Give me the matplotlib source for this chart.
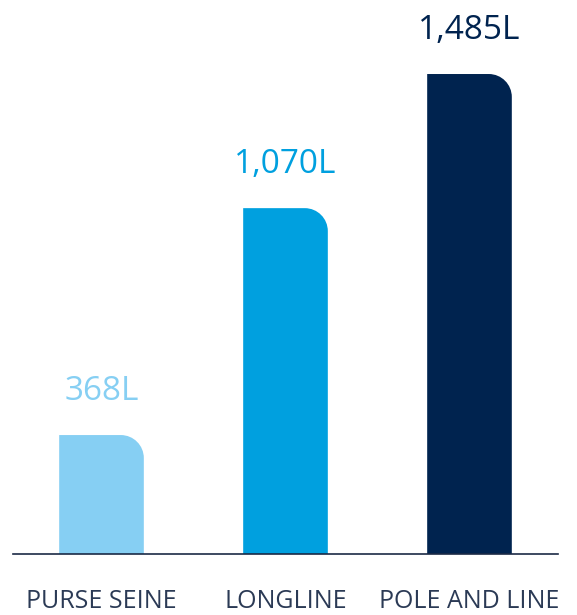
import matplotlib
matplotlib.use("Agg")
import matplotlib.pyplot as plt
from matplotlib.patches import PathPatch
from matplotlib.path import Path

# Litres per tonne by fishing method
METHODS = ["PURSE SEINE", "LONGLINE", "POLE AND LINE"]
LITRES = [368, 1070, 1485]
LABELS = ["368L", "1,070L", "1,485L"]
BAR_COLORS = ["#86CFF3", "#00A0DF", "#00234F"]

TEXT_DARK = "#2B3A55"
FONT = ["Open Sans", "DejaVu Sans"]

W_PX, H_PX, DPI = 577, 615, 100
BAR_WIDTH = 0.46
CORNER_PX = 23  # radius of the rounded top-right corner, in pixels

fig = plt.figure(figsize=(W_PX / DPI, H_PX / DPI), dpi=DPI)
ax = fig.add_axes([13 / W_PX, 61 / H_PX, 545 / W_PX, 554 / H_PX])

x_lo, x_hi = -0.481, 2.481
y_hi = 1714
ax.set_xlim(x_lo, x_hi)
ax.set_ylim(0, y_hi)

# pixel -> data conversion for the corner radius
rx = CORNER_PX * (x_hi - x_lo) / 545
ry = CORNER_PX * y_hi / 554
k = 0.5523


def rounded_bar(xc, h, color):
    x0, x1 = xc - BAR_WIDTH / 2, xc + BAR_WIDTH / 2
    verts = [
        (x0, 0), (x0, h), (x1 - rx, h),
        (x1 - rx + k * rx, h), (x1, h - ry + k * ry), (x1, h - ry),
        (x1, 0), (x0, 0),
    ]
    codes = [Path.MOVETO, Path.LINETO, Path.LINETO,
             Path.CURVE4, Path.CURVE4, Path.CURVE4,
             Path.LINETO, Path.CLOSEPOLY]
    ax.add_patch(PathPatch(Path(verts, codes), facecolor=color,
                           edgecolor="none", zorder=2))


for i, (val, lab, col) in enumerate(zip(LITRES, LABELS, BAR_COLORS)):
    rounded_bar(i, val, col)
    ax.annotate(lab, (i, val), xytext=(0, 25), textcoords="offset points",
                ha="center", va="baseline", fontsize=24, color=col,
                family=FONT)

for spine in ("top", "right", "left"):
    ax.spines[spine].set_visible(False)
ax.spines["bottom"].set_color("#1B2A45")
ax.spines["bottom"].set_linewidth(1.2)
ax.set_yticks([])
ax.set_xticks(range(len(METHODS)))
ax.set_xticklabels(METHODS, family=FONT, fontsize=18, color=TEXT_DARK)
ax.tick_params(axis="x", length=0, pad=25)

fig.savefig("out.png", dpi=DPI, facecolor="white")
